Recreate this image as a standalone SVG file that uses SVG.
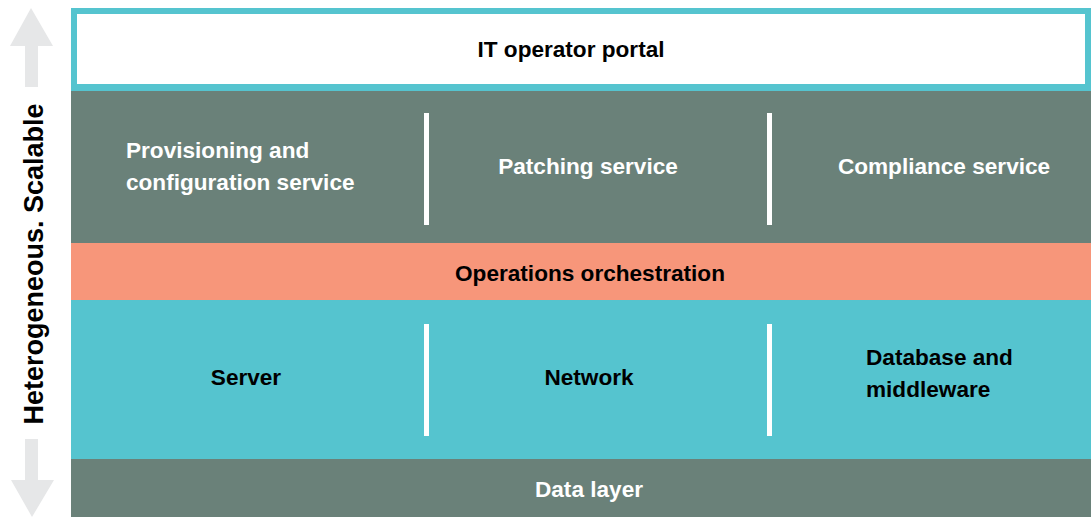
<svg xmlns="http://www.w3.org/2000/svg" width="1091" height="517" viewBox="0 0 1091 517">
<style>
.t{font-family:"Liberation Sans",Arial,sans-serif;font-weight:bold;font-size:22.6px}
.w{fill:#ffffff}
.k{fill:#000000}
.gray{fill:#6a8179}
.teal{fill:#55c4cf}
.sal{fill:#f7967a}
.div{fill:#ffffff}
.arr{fill:#e6e7e8}
</style>
<rect width="1091" height="517" fill="#ffffff"/>
<g id="side">
<polygon class="arr" points="31,8 53,46 38,46 38,87 25,87 25,46 10,46"/>
<polygon class="arr" points="25,439 38,439 38,480 54,480 32,517 11,480 25,480"/>
<text class="t k" style="font-size:27px" text-anchor="middle" transform="translate(43,264) rotate(-90)">Heterogeneous. Scalable</text>
</g>
<g id="portal">
<rect x="71" y="8" width="1020" height="83" class="teal"/>
<rect x="77" y="14" width="1008" height="70" class="w"/>
<text class="t k" x="571" y="57" text-anchor="middle">IT operator portal</text>
</g>
<g id="services">
<rect x="71" y="91" width="1020" height="152" class="gray"/>
<rect x="424" y="113" width="5" height="112" class="div"/>
<rect x="767" y="113" width="5" height="112" class="div"/>
<text class="t w" x="126" y="158">Provisioning and</text>
<text class="t w" x="126" y="190">configuration service</text>
<text class="t w" x="588" y="174" text-anchor="middle">Patching service</text>
<text class="t w" x="944" y="174" text-anchor="middle">Compliance service</text>
</g>
<g id="orchestration">
<rect x="71" y="243" width="1020" height="57" class="sal"/>
<text class="t k" x="590" y="281" text-anchor="middle">Operations orchestration</text>
</g>
<g id="resources">
<rect x="71" y="300" width="1020" height="159" class="teal"/>
<rect x="424" y="324" width="5" height="112" class="div"/>
<rect x="767" y="324" width="5" height="112" class="div"/>
<text class="t k" x="246" y="385" text-anchor="middle">Server</text>
<text class="t k" x="589" y="385" text-anchor="middle">Network</text>
<text class="t k" x="866" y="365">Database and</text>
<text class="t k" x="866" y="397">middleware</text>
</g>
<g id="data">
<rect x="71" y="459" width="1020" height="58" class="gray"/>
<text class="t w" x="589" y="497" text-anchor="middle">Data layer</text>
</g>
<g id="connectors"></g>
</svg>
